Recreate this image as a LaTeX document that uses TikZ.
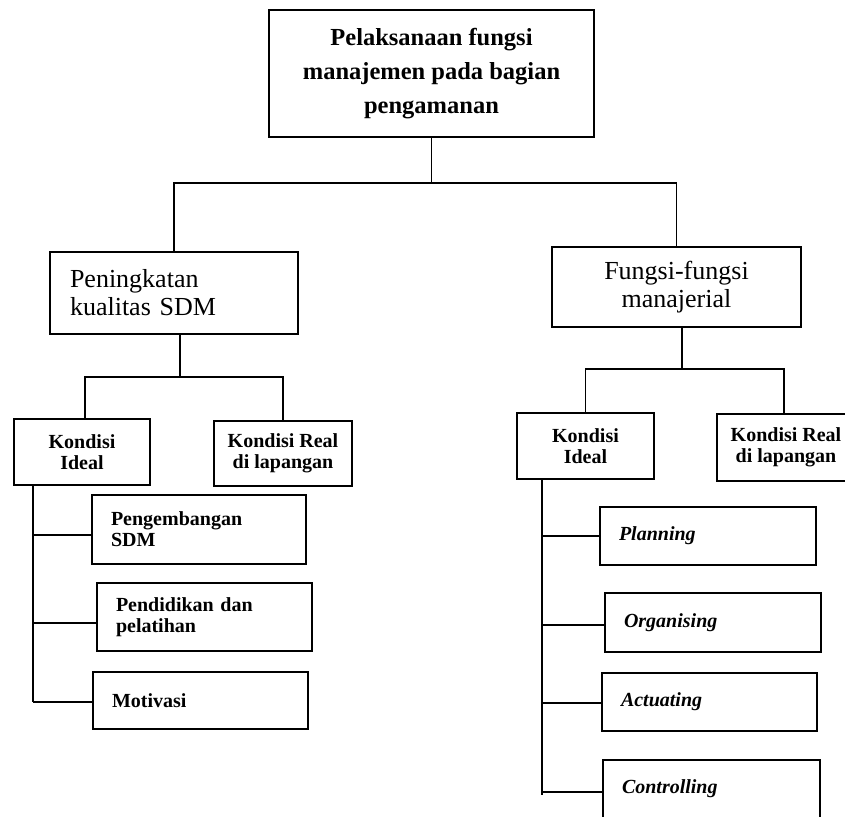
\documentclass[tikz,border=0pt]{standalone}
\usepackage{fontspec}
\setmainfont{Liberation Serif}
\begin{document}
\begin{tikzpicture}[x=1pt,y=-1pt,
  box/.style={draw,line width=1.6pt,inner sep=0pt},
  cbox/.style={box,align=center},
  lbox/.style={box,align=left,inner xsep=19pt},
  conn/.style={line width=1.6pt},
  ftop/.style={font=\fontsize{24.5}{34}\selectfont\bfseries},
  fsec/.style={font=\fontsize{26}{28}\selectfont},
  fthr/.style={font=\fontsize{20}{21}\selectfont\bfseries},
  ffour/.style={font=\fontsize{20}{21}\selectfont\bfseries},
  fit4/.style={font=\fontsize{20}{21}\selectfont\bfseries\itshape}]
\useasboundingbox (0,0) rectangle (845,816);

% level 1
\node[cbox,ftop,minimum width=325pt,minimum height=127pt] (top) at (431.5,73.5)
  {Pelaksanaan fungsi\\manajemen pada bagian\\pengamanan};

% level 2
\node[lbox,fsec,inner xsep=20pt,text width=208pt,minimum height=82pt] (pen) at (174,293)
  {Peningkatan\\kualitas SDM};
\node[cbox,fsec,minimum width=249pt,minimum height=80pt] (fun) at (676.5,287)
  {Fungsi-fungsi\\manajerial};

% level 3
\node[cbox,fthr,minimum width=136pt,minimum height=66pt] (lki) at (82,452) {Kondisi\\Ideal};
\node[cbox,fthr,minimum width=138pt,minimum height=65pt] (lkr) at (283,453.5) {Kondisi Real\\di lapangan};
\node[cbox,fthr,minimum width=137pt,minimum height=66pt] (rki) at (585.5,446) {Kondisi\\Ideal};
\node[cbox,fthr,minimum width=138pt,minimum height=67pt] (rkr) at (786,447.5) {Kondisi Real\\di lapangan};

% level 4 left
\node[lbox,ffour,text width=176pt,minimum height=69pt] (peng) at (199,529.5) {Pengembangan\\SDM};
\node[lbox,ffour,text width=177pt,minimum height=68pt] (pend) at (204.5,617) {Pendidikan dan\\pelatihan};
\node[lbox,ffour,text width=177pt,minimum height=57pt] (moti) at (200.5,700.5) {Motivasi};

% level 4 right
\node[lbox,fit4,text width=178pt,minimum height=58pt] (plan) at (708,536) {Planning};
\node[lbox,fit4,text width=178pt,minimum height=59pt] (orga) at (713,622.5) {Organising};
\node[lbox,fit4,text width=177pt,minimum height=58pt] (actu) at (709.5,702) {Actuating};
\node[lbox,fit4,text width=179pt,minimum height=58pt] (cont) at (711.5,789) {Controlling};

% connectors level 1 -> 2
\coordinate (j1) at (431.5,183);
\draw[conn] (top.south) -- (j1);
\draw[conn] (pen.north) |- (j1) -| (fun.north);

% level 2 -> 3 left
\coordinate (j2) at (180,377);
\draw[conn] (pen.south -| j2) -- (j2);
\draw[conn] ([xshift=3pt]lki.north) |- (j2) -| (lkr.north);

% level 2 -> 3 right
\coordinate (j3) at (682,369);
\draw[conn] (fun.south -| j3) -- (j3);
\draw[conn] (rki.north) |- (j3) -| ([xshift=-2pt]rkr.north);

% left spine
\coordinate (sL) at (33,702);
\coordinate (bL1) at (33,535);
\coordinate (bL2) at (33,623);
\draw[conn] (lki.south -| sL) -- (sL);
\draw[conn] (bL1) -- (peng.west |- bL1);
\draw[conn] (bL2) -- (pend.west |- bL2);
\draw[conn] (sL) -- (moti.west |- sL);

% right spine
\coordinate (sR) at (542,795);
\coordinate (bR1) at (542,536);
\coordinate (bR2) at (542,625);
\coordinate (bR3) at (542,703);
\coordinate (bR4) at (542,792);
\draw[conn] (rki.south -| sR) -- (sR);
\draw[conn] (bR1) -- (plan.west |- bR1);
\draw[conn] (bR2) -- (orga.west |- bR2);
\draw[conn] (bR3) -- (actu.west |- bR3);
\draw[conn] (bR4) -- (cont.west |- bR4);
\end{tikzpicture}
\end{document}
